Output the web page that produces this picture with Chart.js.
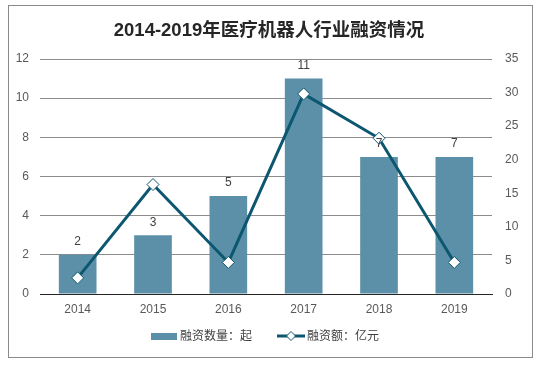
<!DOCTYPE html>
<html>
<head>
<meta charset="utf-8">
<script src="https://cdn.jsdelivr.net/npm/chart.js@4"></script>
<style>
  html, body { margin: 0; padding: 0; background: #fff; }
  #wrap { width: 543px; height: 369px; position: relative; }
</style>
</head>
<body>
<div id="wrap"><canvas id="myChart" width="543" height="369"></canvas></div>
<script>
const years = ['2014', '2015', '2016', '2017', '2018', '2019'];
const dealCounts = [2, 3, 5, 11, 7, 7];
const amounts = [2.4, 16.3, 4.7, 29.8, 23.2, 4.7];
const leftTicks = [0, 2, 4, 6, 8, 10, 12];
const rightTicks = [0, 5, 10, 15, 20, 25, 30, 35];

const titleText = '2014-2019年医疗机器人行业融资情况';
const barColor = '#5b90a8';
const lineColor = '#0d5670';
const fontFam = '"Liberation Sans", Arial, "Noto Sans CJK SC", sans-serif';

const ctx = document.querySelector('#myChart');

const decor = {
    id: 'decor',
    afterDraw(chart) {
        const c = chart.ctx;
        c.save();
        // outer frame
        c.strokeStyle = '#8a8a8a';
        c.lineWidth = 1;
        c.strokeRect(8.5, 5.5, 524, 352);

        // title
        c.fillStyle = '#262626';
        c.font = 'bold 18.5px ' + fontFam;
        c.textAlign = 'center';
        c.textBaseline = 'middle';
        c.fillText(titleText, 269, 31);

        // bar value labels
        c.font = '12px ' + fontFam;
        c.fillStyle = '#404040';
        const meta = chart.getDatasetMeta(0);
        meta.data.forEach((bar, i) => {
            c.fillText(String(dealCounts[i]), bar.x, bar.y - 13);
        });

        // legend
        const ly = 336;
        c.textAlign = 'left';
        c.fillStyle = barColor;
        c.fillRect(151, ly - 3, 26, 7);
        c.fillStyle = '#404040';
        c.fillText(chart.data.datasets[0].label, 180, ly + 1);

        c.strokeStyle = lineColor;
        c.lineWidth = 3;
        c.beginPath();
        c.moveTo(277, ly);
        c.lineTo(305, ly);
        c.stroke();
        c.fillStyle = '#fff';
        c.lineWidth = 1;
        c.beginPath();
        c.moveTo(291, ly - 4.5);
        c.lineTo(295.5, ly);
        c.lineTo(291, ly + 4.5);
        c.lineTo(286.5, ly);
        c.closePath();
        c.fill();
        c.stroke();
        c.fillStyle = '#404040';
        c.fillText(chart.data.datasets[1].label, 307, ly + 1);
        c.restore();
    }
};

let myChart = new Chart(ctx, {
    data: {
        labels: years,
        datasets: [{
            type: 'bar',
            label: '融资数量：起',
            data: dealCounts,
            yAxisID: 'y',
            backgroundColor: barColor,
            categoryPercentage: 1,
            barPercentage: 0.5,
            order: 1
        }, {
            type: 'line',
            label: '融资额：亿元',
            data: amounts,
            yAxisID: 'y1',
            borderColor: lineColor,
            borderWidth: 3,
            pointStyle: 'rectRot',
            pointRadius: 6,
            pointBackgroundColor: '#fff',
            pointBorderColor: lineColor,
            pointBorderWidth: 1,
            tension: 0,
            order: 0
        }]
    },
    options: {
        responsive: false,
        animation: false,
        layout: { padding: { top: 59, left: 0, right: 0, bottom: 0 } },
        plugins: {
            legend: { display: false },
            tooltip: { enabled: false },
            title: { display: false }
        },
        scales: {
            x: {
                grid: { display: false, drawTicks: false },
                border: { display: true, color: '#262626', width: 1 },
                ticks: { color: '#595959', font: { size: 12, family: fontFam }, padding: 8 },
                afterFit(s) { s.height = 75; }
            },
            y: {
                position: 'left',
                min: 0,
                max: 12,
                afterBuildTicks(s) { s.ticks = leftTicks.map(v => ({ value: v })); },
                grid: { color: '#8c8c8c', drawTicks: false },
                border: { display: false },
                ticks: { color: '#595959', font: { size: 12, family: fontFam }, padding: 11 },
                afterFit(s) { s.width = 40; }
            },
            y1: {
                position: 'right',
                min: 0,
                max: 35,
                afterBuildTicks(s) { s.ticks = rightTicks.map(v => ({ value: v })); },
                grid: { display: false, drawTicks: false },
                border: { display: false },
                ticks: { color: '#595959', font: { size: 12, family: fontFam }, padding: 13 },
                afterFit(s) { s.width = 51; }
            }
        }
    },
    plugins: [decor]
});
</script>
</body>
</html>
